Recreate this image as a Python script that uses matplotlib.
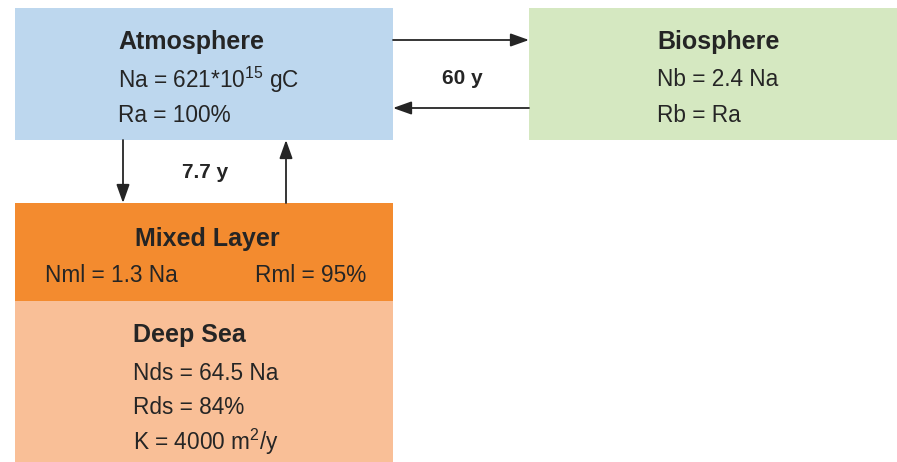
import matplotlib
matplotlib.use("Agg")
import matplotlib.pyplot as plt
from matplotlib.patches import Rectangle

plt.rcParams['font.family'] = ['Liberation Sans', 'DejaVu Sans']
plt.rcParams['mathtext.fontset'] = 'custom'
plt.rcParams['mathtext.rm'] = 'Liberation Sans'
plt.rcParams['mathtext.default'] = 'regular'

# reservoirs: name, fill colour, lines of text
Box_Names = ['Atmosphere', 'Biosphere', 'Mixed Layer', 'Deep Sea']
Box_Colors = ['#bdd7ee', '#d5e8c1', '#f38b2f', '#f9bf97']
Atmosphere_Lines = ['Na = 621*10$^{15}$ gC', 'Ra = 100%']
Biosphere_Lines = ['Nb = 2.4 Na', 'Rb = Ra']
Mixed_Layer_Lines = ['Nml = 1.3 Na', 'Rml = 95%']
Deep_Sea_Lines = ['Nds = 64.5 Na', 'Rds = 84%', 'K = 4000 m$^{2}$/y']
Exchange_Times = ['60 y', '7.7 y']

Text_Color = '#252525'

fig = plt.figure(figsize=(8.97, 4.62), dpi=100)
ax = fig.add_axes([0, 0, 1, 1])
ax.set_xlim(0, 897)
ax.set_ylim(462, 0)
ax.axis('off')

# boxes (x, y, w, h) in pixel coords
Boxes = [(15, 8, 378, 132), (529, 8, 368, 132), (15, 203, 378, 98), (15, 301, 378, 161)]
for (x, y, w, h), c in zip(Boxes, Box_Colors):
    ax.add_patch(Rectangle((x, y), w, h, facecolor=c, edgecolor='none'))

title_kw = dict(fontsize=18, fontweight='bold', color=Text_Color, va='center')
line_kw = dict(fontsize=16.3, color=Text_Color, va='center')

# Atmosphere
ax.text(118, 42, Box_Names[0], ha='left', **title_kw)
for yy, s in zip([80, 115], Atmosphere_Lines):
    ax.text(118, yy, s, ha='left', **line_kw)

# Biosphere
ax.text(657, 42, Box_Names[1], ha='left', **title_kw)
for yy, s in zip([80, 115], Biosphere_Lines):
    ax.text(657, yy, s, ha='left', **line_kw)

# Mixed layer
ax.text(207, 239, Box_Names[2], ha='center', **title_kw)
ax.text(45, 276, Mixed_Layer_Lines[0], ha='left', **line_kw)
ax.text(366, 276, Mixed_Layer_Lines[1], ha='right', **line_kw)

# Deep sea
ax.text(133, 335, Box_Names[3], ha='left', **title_kw)
for yy, s in zip([374, 408, 442], Deep_Sea_Lines):
    ax.text(133, yy, s, ha='left', **line_kw)

# exchange arrows
arrow_kw = dict(arrowstyle='-|>,head_length=0.7,head_width=0.25', lw=1.3, color=Text_Color,
                mutation_scale=16, shrinkA=0, shrinkB=0)
ax.annotate('', xy=(529, 40), xytext=(393, 40), arrowprops=arrow_kw)
ax.annotate('', xy=(393, 108), xytext=(529, 108), arrowprops=arrow_kw)
ax.annotate('', xy=(123, 203), xytext=(123, 140), arrowprops=arrow_kw)
ax.annotate('', xy=(286, 140), xytext=(286, 203), arrowprops=arrow_kw)

ax.text(462, 78, Exchange_Times[0], ha='center', va='center', fontsize=15,
        fontweight='bold', color=Text_Color)
ax.text(205, 172, Exchange_Times[1], ha='center', va='center', fontsize=15,
        fontweight='bold', color=Text_Color)

fig.savefig('out.png', dpi=100, facecolor='white')
